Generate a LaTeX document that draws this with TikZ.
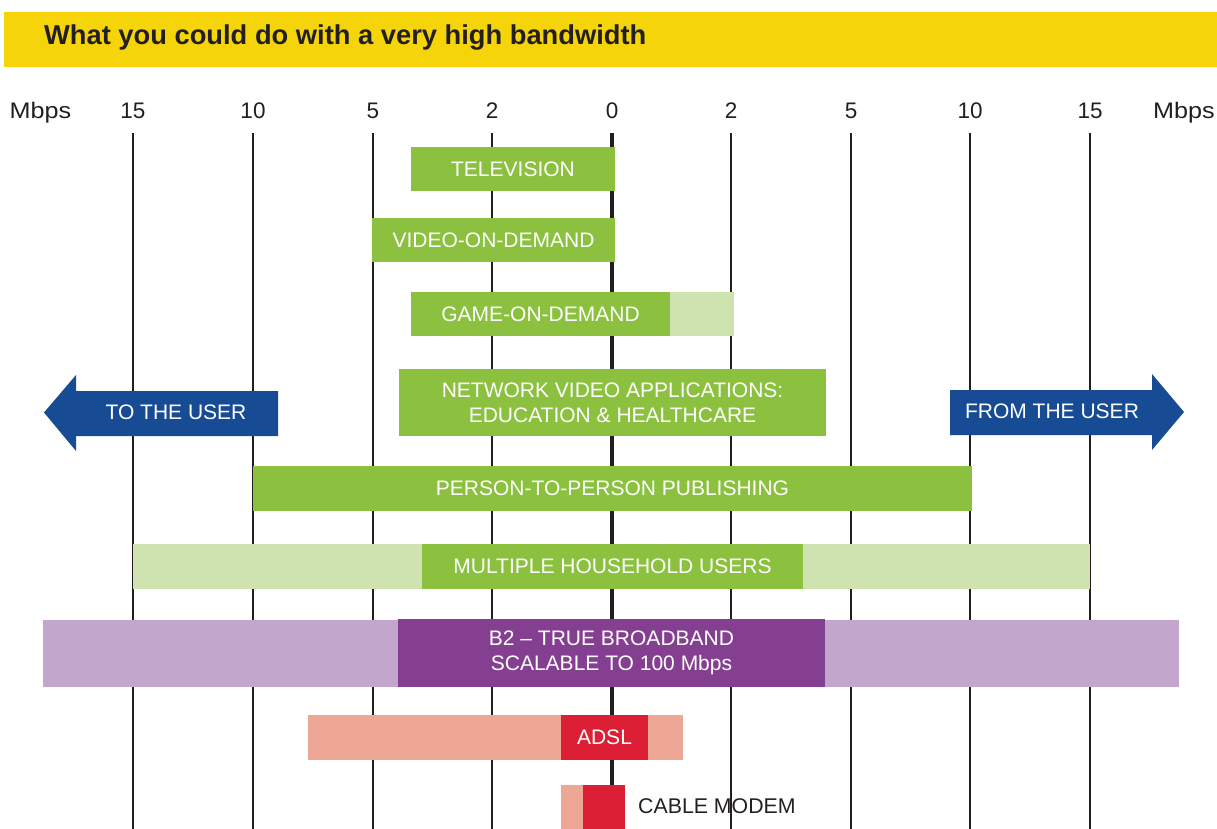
\documentclass[tikz,border=0pt]{standalone}
\usepackage{fontspec}
\setmainfont{Liberation Sans}
\definecolor{ybar}{HTML}{F5D40A}
\definecolor{gdark}{HTML}{8BC13F}
\definecolor{glight}{HTML}{CEE3B0}
\definecolor{bblue}{HTML}{174B94}
\definecolor{pdark}{HTML}{853F91}
\definecolor{plight}{HTML}{C2A6CB}
\definecolor{rdark}{HTML}{DC1F35}
\definecolor{rlight}{HTML}{EDA794}
\definecolor{ink}{HTML}{231F20}
\begin{document}
\begin{tikzpicture}[x=1pt,y=-1pt,
  bar/.style={rectangle,inner sep=0pt,outer sep=0pt,draw=none,text=white,align=center,
    font=\fontsize{21}{25}\selectfont},
  axislab/.style={text=ink,font=\fontsize{22.5}{24}\selectfont,inner sep=0pt,anchor=base},
  grid/.style={ink,line width=2pt},
  zero/.style={ink,line width=4pt}]
\useasboundingbox (0,0) rectangle (1217,829);
% title bar
\node[rectangle,fill=ybar,inner sep=0pt,minimum width=1213pt,minimum height=55pt] (title) at (610.5,39.5) {};
\node[anchor=west,inner sep=0pt,text=ink,font=\fontsize{27.3}{30}\bfseries\selectfont] (titletext) at (44,38) {What you could do with a very high bandwidth};
% axis labels
\node[axislab] (mL) at (40.5,119) {\scalebox{1.12}[1]{Mbps}};
\node[axislab] (a1) at (133,119) {15};
\node[axislab] (a2) at (253,119) {10};
\node[axislab] (a3) at (373,119) {5};
\node[axislab] (a4) at (492,119) {2};
\node[axislab] (a5) at (612,119) {0};
\node[axislab] (a6) at (731,119) {2};
\node[axislab] (a7) at (851,119) {5};
\node[axislab] (a8) at (970,119) {10};
\node[axislab] (a9) at (1090,119) {15};
\node[axislab] (mR) at (1184,119) {\scalebox{1.12}[1]{Mbps}};
% grid lines
\foreach \x/\n in {133/g1,253/g2,373/g3,492/g4,731/g6,851/g7,970/g8,1090/g9}{
  \coordinate (\n top) at (\x,133);
  \coordinate (\n bot) at (\x,829);
  \draw[grid] (\n top) -- (\n bot);
}
\coordinate (g5top) at (612,133);
\coordinate (g5bot) at (612,829);
\draw[zero] (g5top) -- (g5bot);
% bars
\node[bar,fill=gdark,minimum width=204pt,minimum height=44pt] (tv) at (513,169) {TELEVISION};
\node[bar,fill=gdark,minimum width=243pt,minimum height=44pt] (vod) at (493.5,240) {VIDEO-ON-DEMAND};
\node[bar,fill=glight,minimum width=64pt,minimum height=44pt] (godl) at (702,314) {};
\node[bar,fill=gdark,minimum width=259pt,minimum height=44pt] (god) at (540.5,314) {GAME-ON-DEMAND};
\node[bar,fill=gdark,minimum width=427pt,minimum height=67pt] (nva) at (612.5,402.5) {NETWORK VIDEO APPLICATIONS:\\EDUCATION \& HEALTHCARE};
\node[bar,fill=gdark,minimum width=719pt,minimum height=45pt] (p2p) at (612.5,488.5) {PERSON-TO-PERSON PUBLISHING};
\node[bar,fill=glight,minimum width=957pt,minimum height=45pt] (mhl) at (611.5,566.5) {};
\node[bar,fill=gdark,minimum width=381pt,minimum height=45pt] (mhu) at (612.5,566.5) {MULTIPLE HOUSEHOLD USERS};
\node[bar,fill=plight,minimum width=1136pt,minimum height=67pt] (b2l) at (611,653.5) {};
\node[bar,fill=pdark,minimum width=427pt,minimum height=68pt] (b2) at (611.5,653) {B2 -- TRUE BROADBAND\\SCALABLE TO 100 Mbps};
\node[bar,fill=rlight,minimum width=375pt,minimum height=45pt] (adsll) at (495.5,737.5) {};
\node[bar,fill=rdark,minimum width=87pt,minimum height=45pt] (adsl) at (604.5,737.5) {ADSL};
\node[bar,fill=rlight,minimum width=22pt,minimum height=44pt] (cml) at (572,807) {};
\node[bar,fill=rdark,minimum width=42pt,minimum height=44pt] (cm) at (604,807) {};
\node[anchor=west,inner sep=0pt,text=ink,font=\fontsize{21.3}{24}\selectfont] (cmlabel) at (638,806) {CABLE MODEM};
% direction arrows
\fill[bblue] (278,391) -- (76,391) -- (76,375) -- (44,412.5) -- (76,451) -- (76,436) -- (278,436) -- cycle;
\node[bar] (touser) at (176,412) {TO THE USER};
\fill[bblue] (950,390) -- (1152,390) -- (1152,374) -- (1184,412) -- (1152,450) -- (1152,435) -- (950,435) -- cycle;
\node[bar] (fromuser) at (1052,411) {FROM THE USER};
\end{tikzpicture}
\end{document}
